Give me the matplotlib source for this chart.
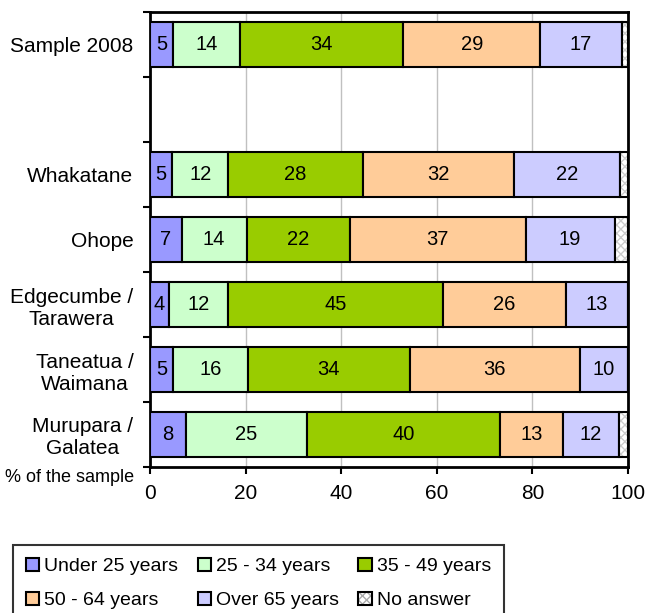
import matplotlib
matplotlib.use('Agg')
import matplotlib.pyplot as plt
import numpy as np

plt.rcParams['font.family'] = ['Liberation Sans', 'DejaVu Sans']

categories = ['Sample 2008', 'Whakatane', 'Ohope', 'Edgecumbe /\nTarawera',
              'Taneatua /\nWaimana', 'Murupara /\nGalatea']
series = ['Under 25 years', '25 - 34 years', '35 - 49 years',
          '50 - 64 years', 'Over 65 years', 'No answer']
under25 = [4.8, 4.7, 6.6, 4.0, 4.8, 7.6]
age25_34 = [14.0, 11.6, 13.6, 12.4, 15.6, 25.2]
age35_49 = [34.2, 28.2, 21.6, 45.0, 33.9, 40.4]
age50_64 = [28.6, 31.7, 36.8, 25.6, 35.7, 13.1]
over65 = [17.1, 22.1, 18.6, 13.0, 10.0, 11.9]
no_answer = [1.3, 1.7, 2.8, 0.0, 0.0, 1.8]
colors = ['#9999FF', '#CCFFCC', '#99CC00', '#FFCC99', '#CCCCFF', '#FFFFFF']

data = [under25, age25_34, age35_49, age50_64, over65, no_answer]

# sample row on top, then an empty slot, then the areas
ypos = np.array([0] + list(range(2, len(categories) + 1)))

fig = plt.figure(figsize=(6.48, 6.13), dpi=100)
ax = fig.add_axes([150/648, 1-467/613, 478/648, 455/613])

left = np.zeros(len(categories))
handles = []
for name, vals, col in zip(series, data, colors):
    vals = np.array(vals)
    if name == 'No answer':
        ax.barh(ypos, vals, left=left, height=0.68, color='white',
                edgecolor='#CCCCCC', hatch='xxxx', linewidth=0, zorder=3)
        ax.barh(ypos, vals, left=left, height=0.68, color='none',
                edgecolor='black', linewidth=1.5, zorder=3)
        h = (plt.Rectangle((0, 0), 1, 1, facecolor='white', edgecolor='#AAAAAA',
                           hatch='xxxx', linewidth=0),
             plt.Rectangle((0, 0), 1, 1, facecolor='none', edgecolor='black',
                           linewidth=1.5))
    else:
        bars = ax.barh(ypos, vals, left=left, height=0.68, color=col,
                       edgecolor='black', linewidth=1.5, zorder=3)
        ax.bar_label(bars, labels=['%.0f' % v for v in vals], label_type='center',
                     fontsize=14.5)
        h = plt.Rectangle((0, 0), 1, 1, facecolor=col, edgecolor='black', linewidth=1.5)
    handles.append(h)
    left = left + vals

ax.set_xlim(0, 100)
ax.set_ylim(6.5, -0.5)
ax.set_xticks(np.arange(0, 101, 20))
ax.set_yticks(ypos)
ax.set_yticklabels(categories, multialignment='center')
ax.set_yticks(np.arange(-0.5, 7, 1), minor=True)
ax.tick_params(axis='y', which='major', length=0, pad=12, labelsize=15)
ax.tick_params(axis='y', which='minor', length=5, width=1.5, direction='out')
ax.tick_params(axis='x', length=5, width=1.5, direction='out', pad=7, labelsize=15)
ax.grid(axis='x', color='#C0C0C0', linewidth=1, zorder=0)
ax.set_axisbelow(True)
for s in ax.spines.values():
    s.set_linewidth(2)

fig.text(5/648, 1-478/613, '% of the sample', fontsize=13, va='center', ha='left')

# legend filled row by row like the original
order = [0, 3, 1, 4, 2, 5]
leg = fig.legend([handles[i] for i in order], [series[i] for i in order],
                 ncol=3, loc='upper left',
                 bbox_to_anchor=(13/648, 1-545/613), fontsize=14,
                 frameon=True, fancybox=False, edgecolor='black',
                 handlelength=0.7, handleheight=0.7, handletextpad=0.25,
                 columnspacing=1.0, labelspacing=0.85, borderpad=0.65,
                 borderaxespad=0)
leg.get_frame().set_linewidth(1.5)

fig.savefig('out.png', dpi=100)
